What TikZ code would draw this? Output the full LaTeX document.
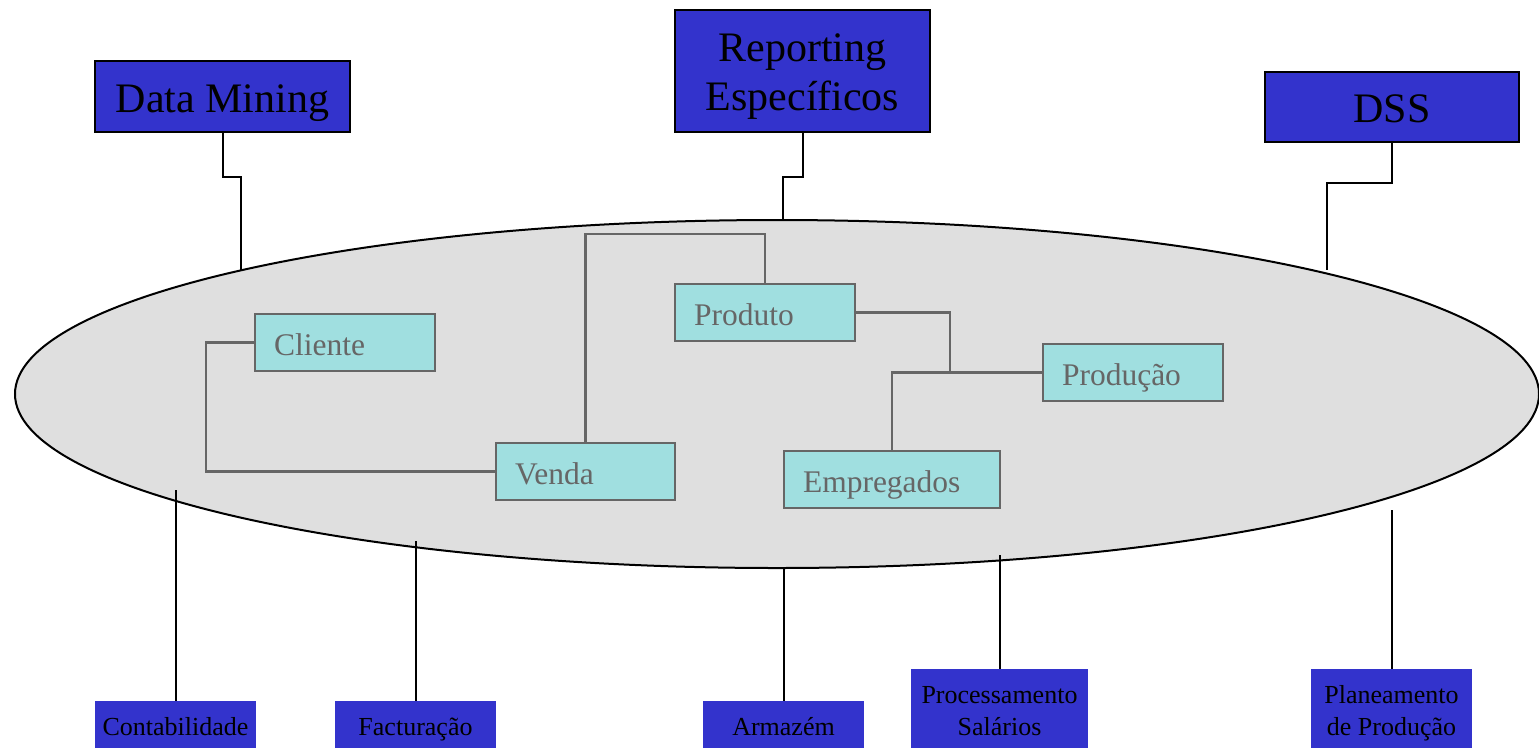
\documentclass[tikz,border=0pt]{standalone}
\usepackage{fontspec}
\setmainfont{Liberation Serif}
\usetikzlibrary{shapes.geometric}
\definecolor{appblue}{HTML}{3333CC}
\definecolor{ellfill}{HTML}{DFDFDF}
\definecolor{entfill}{HTML}{A0DFE0}
\definecolor{entgray}{HTML}{666666}
\newcommand\mytwoline[3]{\raisebox{#1}[\height][\depth]{\begin{tabular}{@{}c@{}}#2\\#3\end{tabular}}}
\tikzset{
  topbox/.style={draw=black, line width=1.3pt, fill=appblue, inner sep=0pt, align=center,
    font=\fontsize{42}{49}\selectfont},
  topone/.style={topbox, text height=34pt, text depth=3pt},
  botbox/.style={fill=appblue, inner sep=0pt, align=center,
    font=\fontsize{26}{32}\selectfont},
  botone/.style={botbox, text height=22pt, text depth=1pt},
  entbox/.style={draw=entgray, line width=2.2pt, fill=entfill, text=entgray,
    minimum height=57pt, inner xsep=19pt, inner ysep=0pt, align=left,
    text height=26pt, text depth=1pt,
    font=\fontsize{31.5}{36}\selectfont},
  outlink/.style={draw=black, line width=2pt},
  entlink/.style={draw=entgray, line width=2.2pt},
  hub/.style={ellipse, draw=black, line width=2pt, fill=ellfill, inner sep=0pt,
    minimum width=1524pt, minimum height=348pt}
}
\begin{document}
\begin{tikzpicture}[x=1pt,y=-1pt]
\useasboundingbox (0,0) rectangle (1539,748);
% central ellipse
\node[hub] (ell) at (777,394) {};
% top boxes
\node[topone, minimum width=255pt, minimum height=71pt] (dm) at (222.5,96.5) {Data Mining};
\node[topbox, minimum width=255pt, minimum height=122pt] (rep) at (802.5,71) {\mytwoline{-4.7pt}{Reporting}{Específicos}};
\node[topone, minimum width=254pt, minimum height=70pt] (dss) at (1392,107) {DSS};
% bottom boxes
\node[botone, minimum width=161pt, minimum height=47pt] (cont) at (175.5,724.5) {Contabilidade};
\node[botone, minimum width=161pt, minimum height=47pt] (fact) at (415.5,724.5) {Facturação};
\node[botone, minimum width=161pt, minimum height=47pt] (arm) at (783.5,724.5) {Armazém};
\node[botbox, minimum width=177pt, minimum height=79pt] (proc) at (999.5,708.5) {\mytwoline{-4.1pt}{Processamento}{Salários}};
\node[botbox, minimum width=161pt, minimum height=79pt] (plan) at (1391.5,708.5) {\mytwoline{-4.1pt}{Planeamento}{de Produção}};
% connector end points on the ellipse
\coordinate (cDM) at (241,270);
\coordinate (cRep) at (783,220);
\coordinate (cDSS) at (1327,270);
\coordinate (cCont) at (175.5,490);
\coordinate (cFact) at (415.5,541);
\coordinate (cArm) at (783.5,567);
\coordinate (cProc) at (999.5,555);
\coordinate (cPlan) at (1391.5,510);
% outer connectors
\draw[outlink] (dm.south) -- ++(0,44) -| (cDM);
\draw[outlink] (rep.south) -- ++(0,44) -| (cRep);
\draw[outlink] (dss.south) -- ++(0,40) -| (cDSS);
\draw[outlink] (cCont) -- (cont.north);
\draw[outlink] (cFact) -- (fact.north);
\draw[outlink] (cArm) -- (arm.north);
\draw[outlink] (cProc) -- (proc.north);
\draw[outlink] (cPlan) -- (plan.north);
% entities
\node[entbox, text width=142pt] (cli) at (345,342.5) {Cliente};
\node[entbox, text width=141pt] (ven) at (585.5,471.5) {Venda};
\node[entbox, text width=142pt] (prod) at (765,312.5) {Produto};
\node[entbox, text width=142pt] (pdc) at (1133,372.5) {Produção};
\node[entbox, text width=178pt] (emp) at (892,479.5) {Empregados};
% entity links
\draw[entlink] (cli.west) -- ++(-48,0) |- (ven.west);
\draw[entlink] (ven.north) -- ++(0,-208) -| (prod.north);
\draw[entlink] (prod.east) -- ++(94,0) |- (pdc.west);
\draw[entlink] (emp.north) |- (pdc.west);
\end{tikzpicture}
\end{document}
